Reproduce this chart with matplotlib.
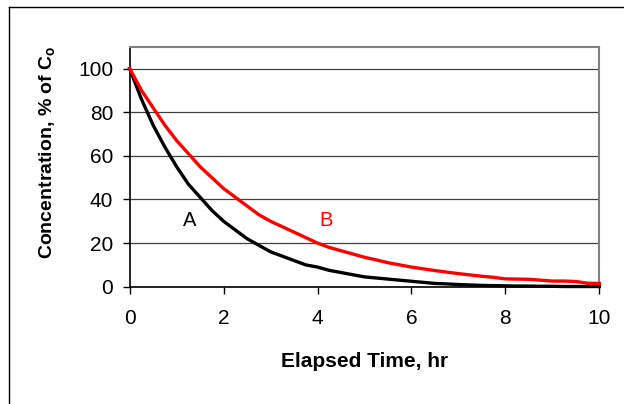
import numpy as np
import matplotlib
matplotlib.use('Agg')
from matplotlib import pyplot as plt
from matplotlib.lines import Line2D

# elapsed time, hr
time_hr = [0.0, 0.25, 0.5, 0.75, 1.0, 1.25, 1.5, 1.75, 2.0, 2.25,
           2.5, 2.75, 3.0, 3.25, 3.5, 3.75, 4.0, 4.25, 4.5, 4.75,
           5.0, 5.25, 5.5, 5.75, 6.0, 6.25, 6.5, 6.75, 7.0, 7.25,
           7.5, 7.75, 8.0, 8.25, 8.5, 8.75, 9.0, 9.25, 9.5, 9.75, 10.0]

# concentration, % of Co
conc_A = [100, 86, 74, 64, 55, 47, 41, 35, 30, 26,
          22, 19, 16, 14, 12, 10, 9, 7.5, 6.5, 5.5,
          4.5, 4, 3.5, 3, 2.5, 2, 1.5, 1.3, 1, 0.8,
          0.6, 0.5, 0.4, 0.3, 0.3, 0.2, 0.2, 0.1, 0.1, 0.1, 0.1]
conc_B = [100, 90, 82, 74, 67, 61, 55, 50, 45, 41,
          37, 33, 30, 27.5, 25, 22.5, 20, 18, 16.5, 15,
          13.5, 12.3, 11, 10, 9, 8.2, 7.4, 6.7, 6, 5.4,
          4.8, 4.3, 3.6, 3.5, 3.4, 3.0, 2.6, 2.6, 2.4, 1.6, 1.5]

x_ticks = [0, 2, 4, 6, 8, 10]
y_ticks = [0, 20, 40, 60, 80, 100]

plt.rcParams['font.family'] = ['Liberation Sans', 'DejaVu Sans']

fig = plt.figure(figsize=(6.24, 4.04), dpi=100)
ax = fig.add_axes([0.2078, 0.2903, 0.7526, 0.5941])

ax.plot(time_hr, conc_A, color='black', lw=2.4, clip_on=False, zorder=3)
ax.plot(time_hr, conc_B, color='#ff0000', lw=2.4, clip_on=False, zorder=4)

ax.text(1.27, 30.5, 'A', color='black', fontsize=14.5, ha='center', va='center')
ax.text(4.19, 30.5, 'B', color='#ff0000', fontsize=14.5, ha='center', va='center')

ax.set_xlim(0, 10)
ax.set_ylim(0, 110)
ax.set_xticks(x_ticks)
ax.set_yticks(y_ticks)
ax.yaxis.grid(True, color='#404040', lw=0.9)
ax.set_axisbelow(True)

ax.tick_params(axis='both', direction='out', length=5, width=1, labelsize=15)
ax.tick_params(axis='x', pad=11)
ax.tick_params(axis='y', pad=7)

for s in ['left', 'bottom']:
	ax.spines[s].set_color('black')
	ax.spines[s].set_linewidth(1.2)
for s in ['top', 'right']:
	ax.spines[s].set_color('#808080')
	ax.spines[s].set_linewidth(1.5)

ax.set_xlabel('Elapsed Time, hr', fontsize=15, fontweight='bold', labelpad=17)
ax.set_ylabel(r'Concentration, % of C$_\mathregular{o}$', fontsize=14,
              fontweight='bold', labelpad=14)
ax.yaxis.label.set_y(0.56)

# outer chart border (left and top edges visible)
fig.add_artist(Line2D([9/624, 9/624], [0, 1 - 7/404], transform=fig.transFigure,
                      color='black', lw=1.0))
fig.add_artist(Line2D([9/624, 1], [1 - 7/404, 1 - 7/404], transform=fig.transFigure,
                      color='black', lw=1.0))

fig.savefig('out.png', dpi=100)
